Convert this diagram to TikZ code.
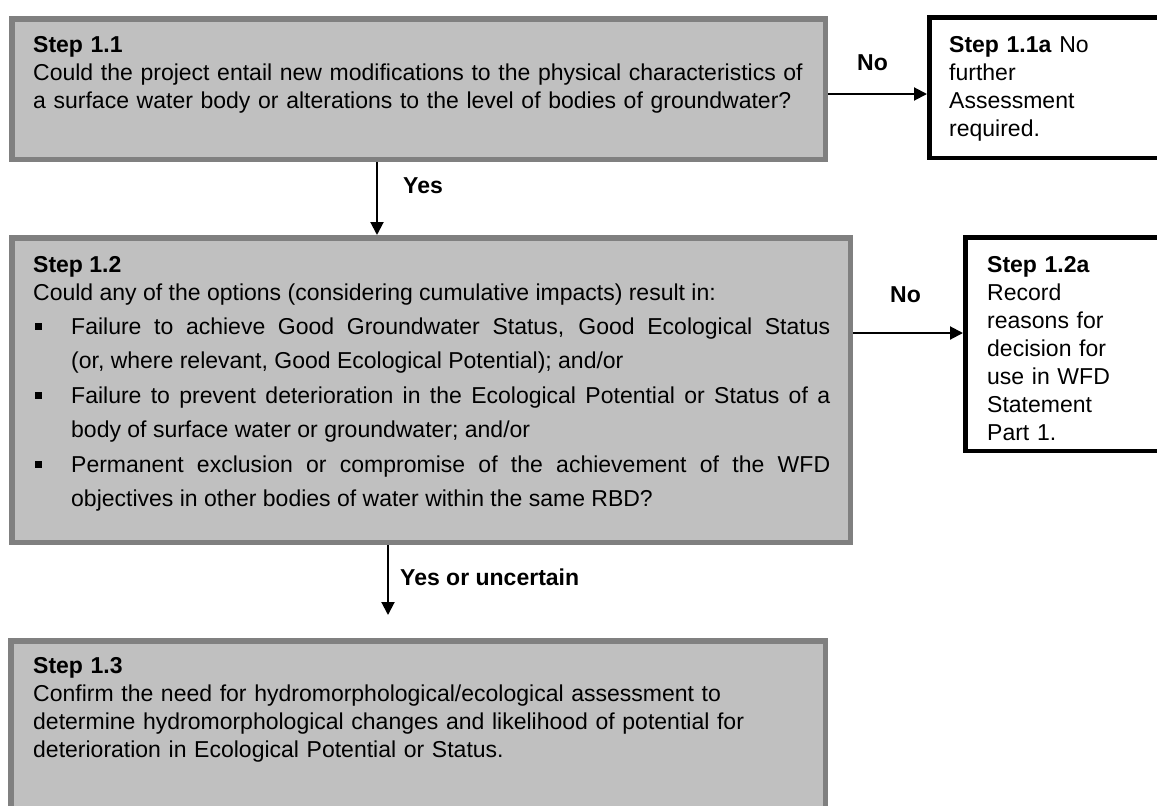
\documentclass[tikz,border=0pt]{standalone}
\usepackage{fontspec}
\setmainfont{Liberation Sans}
\usetikzlibrary{arrows.meta}
\definecolor{boxfill}{HTML}{C0C0C0}
\definecolor{boxline}{HTML}{808080}
\newcommand\sqbul{\hangindent=38pt\hangafter=1\noindent\makebox[38pt][l]{\hspace{2pt}\rule[4.5pt]{6.5pt}{6.5pt}}}
\begin{document}
\begin{tikzpicture}[x=1pt,y=-1pt,
  graybox/.style={draw=boxline, fill=boxfill, line width=5.5pt, inner sep=0pt},
  endbox/.style={draw=black, fill=white, line width=4.5pt, inner sep=0pt},
  txt/.style={anchor=base west, inner sep=0pt, font=\fontsize{23}{28}\selectfont, align=left},
  lbl/.style={anchor=base west, inner sep=0pt, font=\fontsize{23}{28}\selectfont\bfseries},
  arr/.style={line width=2pt, -{Triangle[length=13pt,width=13pt]}}]
\useasboundingbox (0,0) rectangle (1157,806);
\clip (0,0) rectangle (1157,806);
% boxes
\node[graybox, minimum width=813.5pt, minimum height=140.5pt] (b11) at (418.5,89) {};
\node[graybox, minimum width=838.5pt, minimum height=304.5pt] (b12) at (431,390) {};
\node[graybox, minimum width=814.5pt, minimum height=196.5pt] (b13) at (418,739) {};
\node[endbox, minimum width=233.5pt, minimum height=140.5pt] (b11a) at (1046,87.5) {};
\node[endbox, minimum width=197.5pt, minimum height=213.5pt] (b12a) at (1064,344) {};
% texts
\node[txt, text width=790pt] (t11) at (33,52) {\textbf{Step 1.1}\\Could the project entail new modifications to the physical characteristics of\\a surface water body or alterations to the level of bodies of groundwater?};
\node[txt, text width=797pt, align=justify] (t12) at (33,272) {\textbf{Step 1.2}\\Could any of the options (considering cumulative impacts) result in:\par
\baselineskip=34.4pt
\sqbul Failure to achieve Good Groundwater Status, Good Ecological Status\linebreak (or, where relevant, Good Ecological Potential); and/or\par
\sqbul Failure to prevent deterioration in the Ecological Potential or Status of a\linebreak body of surface water or groundwater; and/or\par
\sqbul Permanent exclusion or compromise of the achievement of the WFD\linebreak objectives in other bodies of water within the same RBD?\par};
\node[txt, text width=790pt] (t13) at (33,673) {\textbf{Step 1.3}\\Confirm the need for hydromorphological/ecological assessment to\\determine hydromorphological changes and likelihood of potential for\\deterioration in Ecological Potential or Status.};
\node[txt, text width=200pt] (t11a) at (949,52) {\textbf{Step 1.1a} No\\further\\Assessment\\required.};
\node[txt, text width=170pt] (t12a) at (987,272) {\textbf{Step 1.2a}\\Record\\reasons for\\decision for\\use in WFD\\Statement\\Part 1.};
% connectors
\coordinate (y1) at (0,94);
\coordinate (x1) at (377,0);
\coordinate (y2) at (0,333);
\coordinate (x2) at (388,0);
\coordinate (e13) at (388,615);
\draw[arr] (b11.east |- y1) -- (b11a.west |- y1);
\draw[arr] (b11.south -| x1) -- (b12.north -| x1);
\draw[arr] (b12.east |- y2) -- (b12a.west |- y2);
\draw[arr] (b12.south -| x2) -- (e13);
% labels
\node[lbl] (lno1) at (857,70) {No};
\node[lbl] (lyes1) at (403,193) {Yes};
\node[lbl] (lno2) at (890,302) {No};
\node[lbl] (lyes2) at (400,585) {Yes or uncertain};
\end{tikzpicture}
\end{document}
